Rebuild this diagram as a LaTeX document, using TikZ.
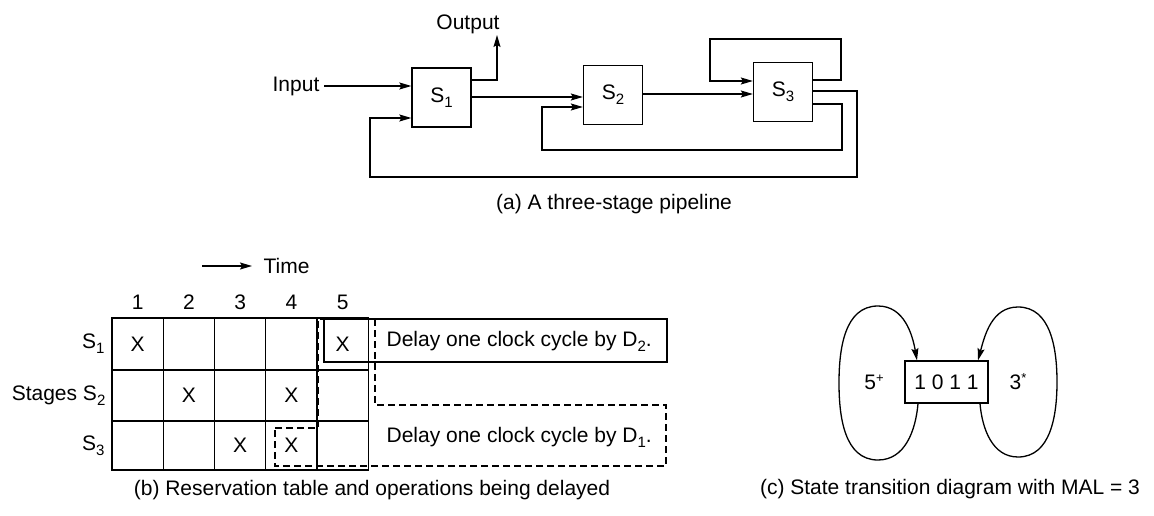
\documentclass[tikz,border=0pt]{standalone}
\usepackage{fontspec}
\setmainfont{Liberation Sans}
\usetikzlibrary{arrows.meta}
\newcommand{\sub}[1]{\raisebox{-5pt}{\fontsize{15}{15}\selectfont #1}}
\newcommand{\sups}[1]{\raisebox{7pt}{\fontsize{13}{13}\selectfont #1}}
\begin{document}
\begin{tikzpicture}[x=1pt,y=-1pt, font=\fontsize{21}{25}\selectfont,
  line width=1.3pt,
  arr/.style={-{Stealth[length=12pt,width=7pt,inset=2pt]}},
  stage/.style={draw, minimum width=59pt, minimum height=59pt, inner sep=0pt},
  lbl/.style={inner sep=0pt},
  dsh/.style={dash pattern=on 7pt off 4pt, line width=1.1pt}]
\useasboundingbox (0,0) rectangle (1154,516);

% ---------- (a) pipeline ----------
\node[stage] (S1) at (441.5,97.5) {S\sub{1}};
\node[stage] (S2) at (613,95) {S\sub{2}};
\node[stage] (S3) at (783,92) {S\sub{3}};

\node[lbl, anchor=east] (in) at (320,86) {Input};
\draw[arr] ([xshift=4pt]in.east) -- (in.east -| S1.west);

\node[lbl] (out) at (468,24) {Output};
\coordinate (outtip) at (497,35);
\draw[arr] (S1.east |- 0,80) -| (outtip);

\draw[arr] (S1.east |- 0,97) -- (S2.west |- 0,97);
\draw[arr] (S2.east |- 0,94) -- (S3.west |- 0,94);
\draw[arr] (S3.east |- 0,80) -- (841,80) -- (841,39) -- (710,39) -- (710,81) -- (S3.west |- 0,81);
\draw[arr] (S3.east |- 0,91) -- (857,91) -- (857,177) -- (370,177) -- (370,118) -- (S1.west |- 0,118);
\draw[arr] (S3.east |- 0,104) -- (842,104) -- (842,150) -- (542,150) -- (542,107) -- (S2.west |- 0,107);

\node[lbl] (capa) at (614,204) {(a) A three-stage pipeline};

% ---------- (b) reservation table ----------
\draw (112,318) rectangle (368.25,470);
\foreach \x in {163.25,214.5,265.75,317} \draw (\x,318) -- (\x,470);
\draw (112,370) -- (368.25,370);
\draw (112,421) -- (368.25,421);

\foreach \i in {1,...,5} \node[lbl] (c\i) at ({112+51.25*(\i-0.5)},302) {\i};

\node[lbl, anchor=west] (time) at (263,266) {Time};
\coordinate (tstart) at (202,266);
\draw[arr] (tstart) -- ([xshift=-11pt]time.west);

\node[lbl, anchor=east] (r1) at (105,344) {S\sub{1}};
\node[lbl, anchor=east] (r2) at (106,396) {Stages S\sub{2}};
\node[lbl, anchor=east] (r3) at (105,446) {S\sub{3}};

\node[lbl] (x11) at (137.6,344) {X};
\node[lbl] (x15) at (342.6,344) {X};
\node[lbl] (x22) at (188.9,395.5) {X};
\node[lbl] (x24) at (291.4,395.5) {X};
\node[lbl] (x33) at (240.1,445.5) {X};
\node[lbl] (x34) at (291.4,445.5) {X};

\node[draw, inner sep=0pt, minimum width=343pt, minimum height=43pt] (d2box) at (495.5,340.5) {};
\node[lbl, anchor=west] (d2) at (386,341) {Delay one clock cycle by D\sub{2}.};
\node[lbl, anchor=west] (d1) at (386,437) {Delay one clock cycle by D\sub{1}.};
\draw[dsh] (275,428) -- (318,428) -- (318,319) -- (375,319) -- (375,405) -- (666,405) -- (666,466) -- (275,466) -- cycle;

\node[lbl] (capb) at (372,490) {(b) Reservation table and operations being delayed};

% ---------- (c) state diagram ----------
\node[draw, minimum width=83pt, minimum height=42pt, inner sep=0pt] (st) at (946.5,382) {1 0 1 1};
\node[lbl] (l5) at (874,382) {5\sups{+}};
\node[lbl] (l3) at (1018,382) {3\sups{*}};
\draw[arr] (st.south -| 918,0) to[out=-95,in=0] (878,460) to[out=180,in=-90] (839,383)
  to[out=90,in=180] (878,306) to[out=0,in=100] (st.north -| 917,0);
\draw[arr] (st.south -| 980,0) to[out=-85,in=180] (1018,457) to[out=0,in=-90] (1057,382)
  to[out=90,in=0] (1018,307) to[out=180,in=75] (st.north -| 978,0);

\node[lbl] (capc) at (950,489) {(c) State transition diagram with MAL = 3};
\end{tikzpicture}
\end{document}
